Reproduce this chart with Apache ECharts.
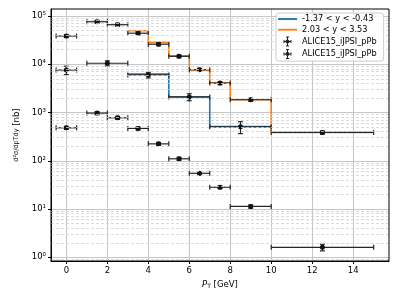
<!DOCTYPE html>
<html><head><meta charset="utf-8">
<script src="https://cdn.jsdelivr.net/npm/echarts@6/dist/echarts.min.js"></script>
<style>html,body{margin:0;padding:0;background:#fff}#c{width:399px;height:299px}</style>
</head><body><div id="c"></div>
<script>
// axis ticks
const xTicks = [0, 2, 4, 6, 8, 10, 12, 14];
const yTicks = [1, 10, 100, 1000, 10000, 100000];
const yTickLabels = ['10⁰', '10¹', '10²', '10³', '10⁴', '10⁵'];

// step histograms (bin edges + values)
const bwdName = '-1.37 < y < -0.43';
const bwdEdges = [3, 5, 7, 10];
const bwdVals = [6270, 2090, 514];
const fwdName = '2.03 < y < 3.53';
const fwdEdges = [3, 4, 5, 6, 7, 8, 10, 15];
const fwdVals = [49500, 28400, 15000, 7600, 4130, 1840, 386];

// data points: upper set
const d1X = [0, 1.5, 2.5, 3.5, 4.5, 5.5, 6.5, 7.5, 9, 12.5];
const d1Xerr = [0.5, 0.5, 0.5, 0.5, 0.5, 0.5, 0.5, 0.5, 1, 2.5];
const d1Y = [38500, 76000, 66000, 44000, 26000, 14600, 7700, 4070, 1840, 386];
const d1Yerr = [2700, 5000, 4500, 3000, 1800, 1000, 550, 300, 130, 30];
// data points: lower set
const d3Y = [482, 973, 777, 468, 224, 110, 55, 28.3, 11.3, 1.61];
const d3Yerr = [35, 70, 55, 35, 16, 8, 4, 2, 0.9, 0.25];
// data points: second series
const d2X = [0, 2, 4, 6, 8.5];
const d2Xerr = [0.5, 1, 1, 1, 1.5];
const d2Y = [7600, 10500, 6000, 2100, 505];
const d2Yerr = [1500, 1300, 800, 350, 140];

const dataName1 = 'ALICE15_iJPSI_pPb';
const dataName2 = 'ALICE15_iJPSI_pPb ';

function stepData(edges, vals) {
  const out = vals.map((v, i) => [edges[i], v]);
  out.push([edges[edges.length - 1], vals[vals.length - 1]]);
  return out;
}
function errData(xs, xe, ys, ye) {
  return xs.map((x, i) => [x, ys[i], xe[i], ye[i]]);
}
const set1 = errData(d1X, d1Xerr, d1Y, d1Yerr).concat(errData(d1X, d1Xerr, d3Y, d3Yerr));
const set2 = errData(d2X, d2Xerr, d2Y, d2Yerr);

// minor grid positions (log axis 2..9 per decade)
const minorGrid = [];
for (let k = -1; k <= 4; k++) for (let m = 2; m <= 9; m++) {
  const v = m * Math.pow(10, k);
  if (v > 0.84 && v < 139000) minorGrid.push(v);
}

function renderErr(params, api) {
  const x = api.value(0), y = api.value(1), xe = api.value(2), ye = api.value(3);
  const c = api.coord([x, y]);
  const l = api.coord([x - xe, y])[0], r = api.coord([x + xe, y])[0];
  const t = api.coord([x, y + ye])[1], b = api.coord([x, y - ye])[1];
  const cap = 2.5;
  const st = { stroke: '#262626', lineWidth: 1.2 };
  return { type: 'group', children: [
    { type: 'line', shape: { x1: l, y1: c[1], x2: r, y2: c[1] }, style: st },
    { type: 'line', shape: { x1: l, y1: c[1] - cap, x2: l, y2: c[1] + cap }, style: st },
    { type: 'line', shape: { x1: r, y1: c[1] - cap, x2: r, y2: c[1] + cap }, style: st },
    { type: 'line', shape: { x1: c[0], y1: t, x2: c[0], y2: b }, style: st },
    { type: 'line', shape: { x1: c[0] - cap, y1: t, x2: c[0] + cap, y2: t }, style: st },
    { type: 'line', shape: { x1: c[0] - cap, y1: b, x2: c[0] + cap, y2: b }, style: st },
    { type: 'circle', shape: { cx: c[0], cy: c[1], r: 2.5 }, style: { fill: '#111' } }
  ]};
}

const errIcon = 'path://M0,4.5H8V5.5H0Z M3.5,0H4.5V10H3.5Z M0,3.5H1V6.5H0Z M7,3.5H8V6.5H7Z M2.5,0H5.5V1H2.5Z M2.5,9H5.5V10H2.5Z M4,3A2,2 0 1 1 4,7A2,2 0 1 1 4,3Z';
const lineIcon = 'path://M0,0H20V2H0Z';

const FONT = 'DejaVu Sans';
const chart = echarts.init(document.getElementById('c'), null, { renderer: 'canvas' });
chart.setOption({
  animation: false,
  backgroundColor: '#fff',
  textStyle: { fontFamily: FONT },
  grid: { left: 51, right: 10, top: 9, bottom: 38, show: true, borderColor: '#000', borderWidth: 1, z: 10 },
  legend: {
    left: 276, top: 13, orient: 'vertical', z: 20,
    backgroundColor: 'rgba(255,255,255,0.88)', borderColor: '#cccccc', borderWidth: 1, borderRadius: 3,
    padding: [2, 7, 2, 2], itemWidth: 19, itemHeight: 10, itemGap: 2.7,
    textStyle: { fontFamily: FONT, fontSize: 8.2, color: '#000' },
    formatter: n => n.trim(),
    data: [
      { name: bwdName, icon: lineIcon, itemStyle: { color: '#1f77b4', borderWidth: 0 } },
      { name: fwdName, icon: lineIcon, itemStyle: { color: '#ff7f0e', borderWidth: 0 } },
      { name: dataName1, icon: errIcon }, { name: dataName2, icon: errIcon }
    ]
  },
  xAxis: {
    type: 'value', min: -0.75, max: 15.75,
    name: '{i|P}{s|T} [GeV]', nameLocation: 'middle', nameGap: 16,
    nameTextStyle: { fontFamily: FONT, fontSize: 8.5, color: '#000',
      rich: { i: { fontFamily: FONT, fontStyle: 'italic', fontSize: 8.5 }, s: { fontFamily: FONT, fontSize: 6, verticalAlign: 'bottom', padding: [5, 0, 0, 0] } } },
    axisLine: { show: true, onZero: false, lineStyle: { color: '#000', width: 1 } },
    axisTick: { show: true, length: 3, lineStyle: { color: '#000' }, customValues: xTicks },
    axisLabel: { customValues: xTicks, margin: 5, fontSize: 8.5, color: '#000', fontFamily: FONT },
    splitLine: { show: true, lineStyle: { color: '#c6c6c6', width: 1 } }
  },
  yAxis: {
    type: 'log', logBase: 10, min: 0.838, max: 139600,
    name: '{f|d²σ/dpTdy} [nb]', nameLocation: 'middle', nameGap: 28, nameRotate: 90,
    nameTextStyle: { fontFamily: FONT, fontSize: 8.5, color: '#000', rich: { f: { fontFamily: FONT, fontSize: 6.5 } } },
    axisLine: { show: true, onZero: false, lineStyle: { color: '#000', width: 1 } },
    axisTick: { show: true, length: 3, lineStyle: { color: '#000' }, customValues: yTicks },
    axisLabel: { customValues: yTicks, margin: 5, fontSize: 8.5, color: '#000', fontFamily: FONT,
      formatter: v => { const i = yTicks.findIndex(t => Math.abs(Math.log10(t) - Math.log10(v)) < 1e-6); return i >= 0 ? yTickLabels[i] : ''; } },
    splitLine: { show: true, lineStyle: { color: '#c6c6c6', width: 1 } },
    minorSplitLine: { show: false }
  },
  series: [
    { name: '_minor', type: 'line', data: [[-0.75, 1]], symbol: 'none', lineStyle: { opacity: 0 }, z: 1, silent: true,
      markLine: { silent: true, symbol: ['none', 'none'], label: { show: false }, animation: false,
        lineStyle: { type: [3, 2], color: '#d2d2d2', width: 0.8 },
        data: minorGrid.map(v => ({ yAxis: v })) } },
    { name: bwdName, type: 'line', step: 'end', data: stepData(bwdEdges, bwdVals), symbol: 'none', showSymbol: false,
      lineStyle: { color: '#1f77b4', width: 1.6 }, itemStyle: { color: '#1f77b4' }, z: 2 },
    { name: fwdName, type: 'line', step: 'end', data: stepData(fwdEdges, fwdVals), symbol: 'none', showSymbol: false,
      lineStyle: { color: '#ff7f0e', width: 1.6 }, itemStyle: { color: '#ff7f0e' }, z: 3 },
    { name: dataName1, type: 'custom', renderItem: renderErr, data: set1, encode: { x: 0, y: 1 }, itemStyle: { color: '#222' }, z: 4, clip: true },
    { name: dataName2, type: 'custom', renderItem: renderErr, data: set2, encode: { x: 0, y: 1 }, itemStyle: { color: '#222' }, z: 4, clip: true }
  ]
});
</script></body></html>
